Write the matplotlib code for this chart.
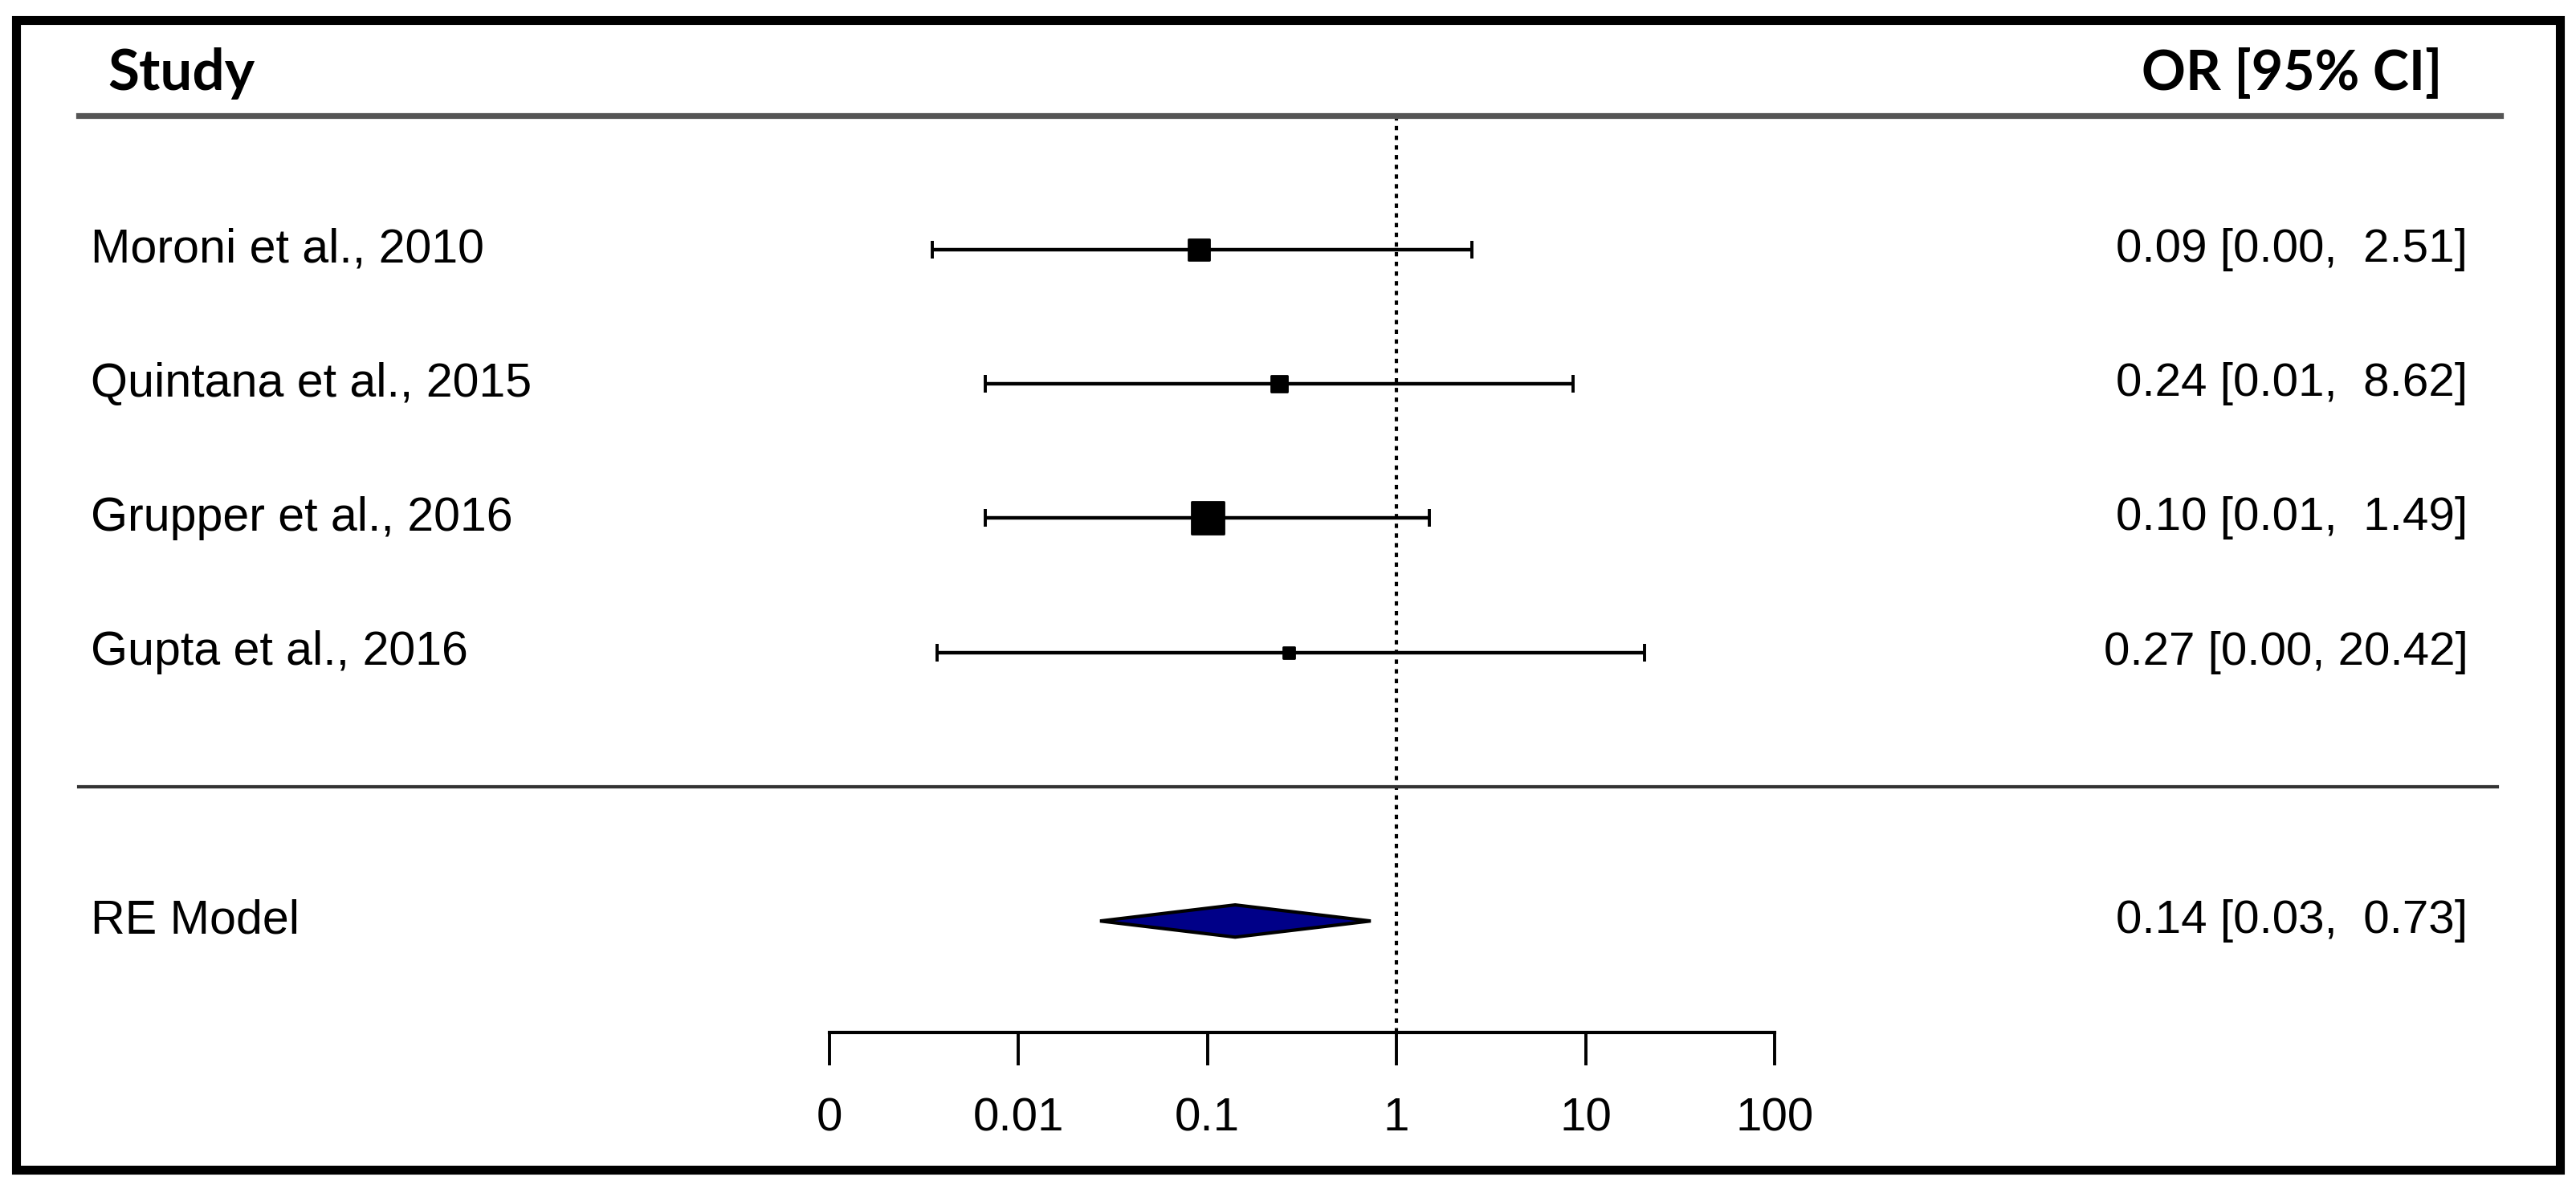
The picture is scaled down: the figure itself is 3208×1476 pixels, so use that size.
import numpy as np
import matplotlib.pyplot as plt
from matplotlib.patches import Rectangle, Polygon
from matplotlib.transforms import blended_transform_factory

plt.rcParams['font.family'] = ['Liberation Sans', 'DejaVu Sans']

# study data (odds ratios with 95% CI)
studies = ['Moroni et al., 2010', 'Quintana et al., 2015', 'Grupper et al., 2016', 'Gupta et al., 2016']
est = np.array([0.09, 0.24, 0.10, 0.27])
ci_lo = np.array([0.0035, 0.0067, 0.0067, 0.0037])
ci_hi = np.array([2.51, 8.62, 1.49, 20.42])
weights = np.array([26, 20, 40, 14])   # relative square size

re_label = 'RE Model'
re_est, re_lo, re_hi = 0.14, 0.027, 0.73

tick_vals = [0.001, 0.01, 0.1, 1, 10, 100]
tick_labels = ['0', '0.01', '0.1', '1', '10', '100']

rows = np.arange(len(studies), 0, -1)
re_row = -1
axis_y = -1.83

fig = plt.figure(figsize=(16.04, 7.38), dpi=200)
ax = fig.add_axes([1033 / 3208, 0, (2210 - 1033) / 3208, 1])
ax.patch.set_visible(False)
ax.set_xscale('log')
ax.set_xlim(0.001, 100)
ax.set_ylim(-2.966, 5.859)

for s in ['top', 'left', 'right']:
    ax.spines[s].set_visible(False)
ax.spines['bottom'].set_position(('data', axis_y))
ax.spines['bottom'].set_bounds(0.001, 100)
ax.spines['bottom'].set_linewidth(1.5)
ax.set_yticks([])
ax.set_xticks(tick_vals)
ax.set_xticklabels(tick_labels)
ax.minorticks_off()
ax.tick_params(axis='x', direction='out', length=14.8, width=1.4, pad=14, labelsize=21)

# reference line
ax.vlines(1, axis_y, 5, colors='black', linestyles=(0, (1.3, 1.6)), lw=1.5)

# study CIs and squares
ax.errorbar(est, rows, xerr=[est - ci_lo, ci_hi - est], fmt='none', ecolor='black',
            elinewidth=1.6, capsize=3.8, capthick=1.4)
ax.scatter(est, rows, marker='s', s=(weights * 0.36) ** 2, color='black', zorder=3)

# summary diamond
h = 0.12
ax.add_patch(Polygon([(re_lo, re_row), (re_est, re_row + h), (re_hi, re_row), (re_est, re_row - h)],
                     closed=True, facecolor='#000088', edgecolor='black', lw=1.5, zorder=3))

tr = blended_transform_factory(fig.transFigure, ax.transData)

# header
ax.text(0.042, 5.31, 'Study', transform=tr, ha='left', va='center', fontsize=25.5,
        fontweight='bold', family='Lato')
ax.text(0.948, 5.31, 'OR [95% CI]', transform=tr, ha='right', va='center', fontsize=24.5,
        fontweight='bold', family='Lato')
ax.plot([0.0306, 0.9707], [5, 5], transform=tr, color='#555555', lw=2.6, clip_on=False)
ax.plot([0.0306, 0.9695], [0, 0], transform=tr, color='#333333', lw=1.5, clip_on=False)

for name, r, e, lo, hi in zip(studies, rows, est, ci_lo, ci_hi):
    ax.text(0.0351, r, name, transform=tr, ha='left', va='center', fontsize=21.3)
    ax.text(0.958, r, f'{e:.2f} [{lo:.2f}, {hi:5.2f}]', transform=tr, ha='right', va='center', fontsize=21)

ax.text(0.0351, re_row, re_label, transform=tr, ha='left', va='center', fontsize=21.3)
ax.text(0.958, re_row, f'{re_est:.2f} [{re_lo:.2f}, {re_hi:5.2f}]', transform=tr, ha='right',
        va='center', fontsize=21)

# outer frame
fig.add_artist(Rectangle((0.0062, 0.0129), 0.9876, 0.970, transform=fig.transFigure,
                         fill=False, lw=4, ec='black'))

fig.savefig('out.png', dpi=200, facecolor='white')
